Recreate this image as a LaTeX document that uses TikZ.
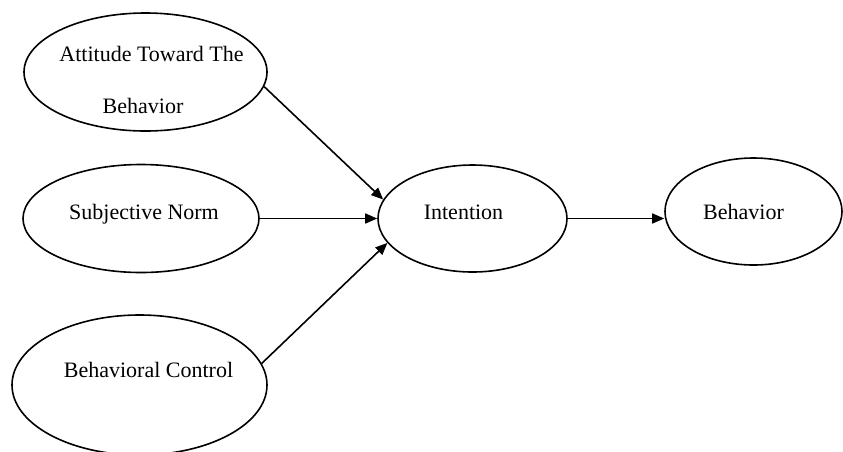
\documentclass[tikz,border=0pt]{standalone}
\usepackage{fontspec}
\setmainfont{Liberation Serif}
\usetikzlibrary{shapes.geometric,arrows.meta}
\begin{document}
\begin{tikzpicture}[x=1pt,y=-1pt,
  oval/.style={draw, ellipse, line width=1.6pt, inner sep=0pt},
  lbl/.style={anchor=base, inner sep=0pt, font=\rmfamily\fontsize{22}{26}\selectfont, align=center},
  conn/.style={line width=1.6pt, -{Triangle[length=12pt,width=10pt]}}]
\useasboundingbox (0,0) rectangle (843,451);
\fill[white] (0,0) rectangle (843,451);
% ellipses
\node[oval, minimum width=243pt, minimum height=118pt] (att) at (145.5,72) {};
\node[oval, minimum width=236pt, minimum height=108pt] (sn) at (141,218.5) {};
\node[oval, minimum width=255pt, minimum height=140pt] (bc) at (139.5,385) {};
\node[oval, minimum width=189pt, minimum height=107pt] (int) at (472.5,218.5) {};
\node[oval, minimum width=177pt, minimum height=107pt] (beh) at (753.5,211.5) {};
% texts
\node[lbl] (att1) at (151.5,61.7) {Attitude Toward The};
\node[lbl] (att2) at (143,113) {Behavior};
\node[lbl] (snt) at (144,219) {Subjective Norm};
\node[lbl] (bct) at (148.5,377) {Behavioral Control};
\node[lbl] (intt) at (463.5,219) {Intention};
\node[lbl] (beht) at (743.5,219) {Behavior};
% connectors
\draw[conn] (att.-7.6) -- (int.168.2);
\draw[conn] (sn.east) -- (int.west);
\draw[conn] (bc.10.3) -- (int.196.4);
\draw[conn] (int.east) -- (int.east -| beh.west);
\end{tikzpicture}
\end{document}
